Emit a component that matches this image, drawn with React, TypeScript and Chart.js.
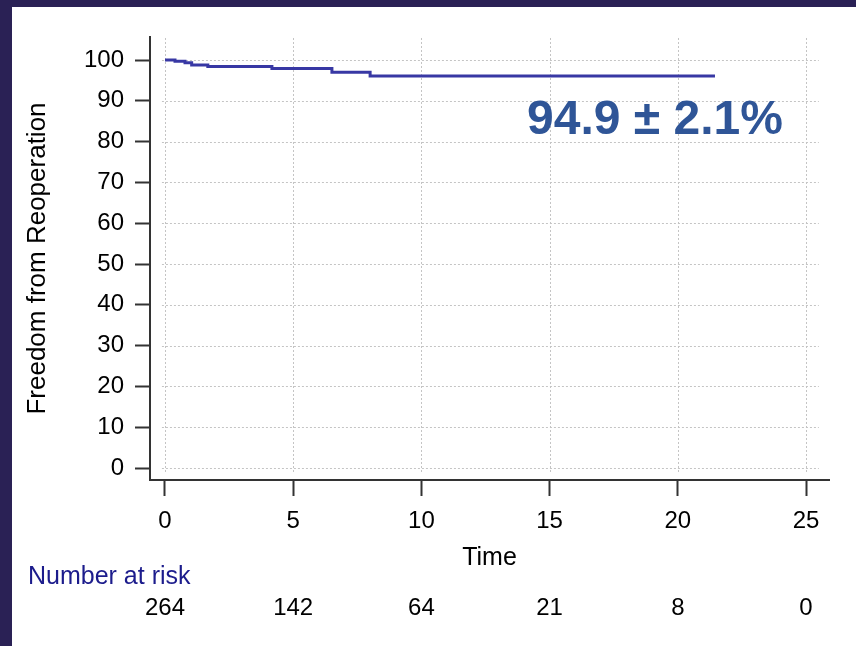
import React, { useEffect, useRef } from "react";
import { Chart, registerables } from "chart.js";

Chart.register(...registerables);

// Kaplan–Meier estimate: follow-up time (years) and freedom from reoperation (%)
const times = [0, 0.39, 0.78, 1.04, 1.67, 4.17, 6.51, 8.0, 21.45];
const survival = [100, 99.7, 99.3, 98.8, 98.4, 97.9, 97.0, 96.1, 96.1];

const xTicks = [0, 5, 10, 15, 20, 25];
const yTicks = [0, 10, 20, 30, 40, 50, 60, 70, 80, 90, 100];

// Number at risk under each time tick
const atRiskTimes = [0, 5, 10, 15, 20, 25];
const atRiskCounts = [264, 142, 64, 21, 8, 0];

const summaryLabel = "94.9 ± 2.1%";

const FONT = "'Liberation Sans', Arial, Helvetica, sans-serif";

const gridPlugin = {
  id: "dottedGrid",
  beforeDatasetsDraw(chart: any) {
    const { ctx, scales } = chart;
    const xs = scales.x;
    const ys = scales.y;
    ctx.save();
    ctx.strokeStyle = "#c4c4c4";
    ctx.lineWidth = 1;
    ctx.setLineDash([2, 2]);
    const x0 = xs.getPixelForValue(-0.12);
    const x1 = xs.getPixelForValue(25.5);
    yTicks.forEach((v) => {
      const y = Math.round(ys.getPixelForValue(v)) + 0.5;
      ctx.beginPath();
      ctx.moveTo(x0, y);
      ctx.lineTo(x1, y);
      ctx.stroke();
    });
    const yTop = ys.getPixelForValue(105.4);
    const yBot = ys.getPixelForValue(-1.2);
    xTicks.forEach((v) => {
      const x = Math.round(xs.getPixelForValue(v)) + 0.5;
      ctx.beginPath();
      ctx.moveTo(x, yTop);
      ctx.lineTo(x, yBot);
      ctx.stroke();
    });
    ctx.restore();
  },
};

const textPlugin = {
  id: "kmText",
  afterDraw(chart: any) {
    const { ctx, scales } = chart;
    const xs = scales.x;
    ctx.save();
    // summary estimate
    ctx.font = `bold 48px ${FONT}`;
    ctx.fillStyle = "#2f5597";
    ctx.textAlign = "left";
    ctx.textBaseline = "alphabetic";
    ctx.fillText(summaryLabel, 515, 127);

    // number-at-risk table
    ctx.font = `25px ${FONT}`;
    ctx.textBaseline = "middle";
    ctx.fillStyle = "#1c1c8c";
    ctx.fillText("Number at risk", 16, 570);
    ctx.font = `24px ${FONT}`;
    ctx.fillStyle = "#000";
    ctx.textAlign = "center";
    atRiskTimes.forEach((t, i) => {
      ctx.fillText(String(atRiskCounts[i]), xs.getPixelForValue(t), 601);
    });
    ctx.restore();
  },
};

export default function App() {
  const ref = useRef<HTMLCanvasElement | null>(null);

  useEffect(() => {
    if (!ref.current) return;
    const chart = new Chart(ref.current, {
      type: "line",
      data: {
        datasets: [
          {
            data: times.map((t, i) => ({ x: t, y: survival[i] })),
            borderColor: "#3838a4",
            borderWidth: 3,
            pointRadius: 0,
            stepped: true,
            fill: false,
            clip: false as any,
          },
        ],
      },
      options: {
        animation: false,
        responsive: false,
        maintainAspectRatio: false,
        devicePixelRatio: 1,
        layout: { padding: { left: 0, right: 27, top: 30, bottom: 73 } },
        plugins: {
          legend: { display: false },
          tooltip: { enabled: false },
        },
        scales: {
          x: {
            type: "linear",
            min: -0.585,
            max: 25.897,
            afterBuildTicks: (axis: any) => {
              axis.ticks = xTicks.map((v) => ({ value: v }));
            },
            afterFit: (axis: any) => {
              axis.height = 93;
            },
            grid: {
              drawOnChartArea: false,
              drawTicks: true,
              tickLength: 16,
              tickColor: "#333",
              tickWidth: 2,
            },
            border: { display: true, color: "#333", width: 2 },
            ticks: {
              color: "#000",
              padding: 11,
              font: { family: FONT, size: 24 },
              maxRotation: 0,
            },
            title: {
              display: true,
              text: "Time",
              color: "#000",
              font: { family: FONT, size: 25 },
              padding: 0,
            },
          },
          y: {
            type: "linear",
            min: -2.94,
            max: 105.64,
            afterBuildTicks: (axis: any) => {
              axis.ticks = yTicks.map((v) => ({ value: v }));
            },
            afterFit: (axis: any) => {
              axis.width = 138;
            },
            grid: {
              drawOnChartArea: false,
              drawTicks: true,
              tickLength: 15,
              tickColor: "#333",
              tickWidth: 2,
            },
            border: { display: true, color: "#333", width: 2 },
            ticks: {
              color: "#000",
              padding: 11,
              font: { family: FONT, size: 24 },
            },
            title: {
              display: true,
              text: "Freedom from Reoperation",
              color: "#000",
              font: { family: FONT, size: 26 },
              padding: { top: 10, bottom: 0 },
            },
          },
        },
      },
      plugins: [gridPlugin, textPlugin],
    });
    return () => chart.destroy();
  }, []);

  return (
    <div style={{ position: "fixed", inset: 0, background: "#2a2155" }}>
      <div
        style={{
          position: "absolute",
          left: 12,
          top: 7,
          width: 844,
          height: 639,
          background: "#ffffff",
        }}
      >
        <canvas ref={ref} width={844} height={639} style={{ display: "block" }} />
      </div>
    </div>
  );
}
